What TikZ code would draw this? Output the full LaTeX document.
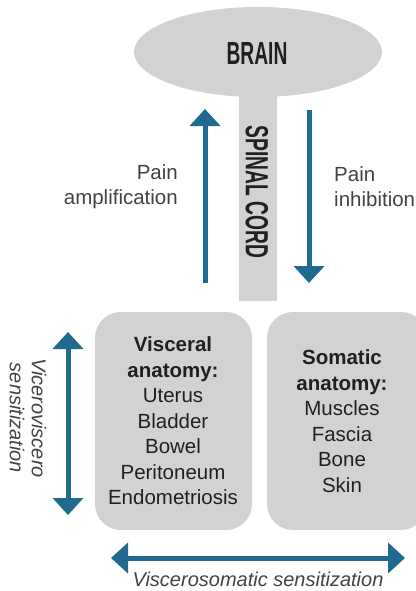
\documentclass[tikz,border=0pt]{standalone}
\usepackage{fontspec}
\setmainfont{Liberation Sans}
\newfontfamily\condfont[FakeStretch=0.6]{Liberation Sans Bold}
\usetikzlibrary{arrows.meta,shapes.geometric}
\definecolor{cordgray}{HTML}{D1D2D4}
\definecolor{arrowblue}{HTML}{1F6A8E}
\definecolor{txt}{HTML}{231F20}
\tikzset{
  x=1pt, y=-1pt,
  grayfill/.style={fill=cordgray, draw=none},
  bluearrow/.style={draw=arrowblue, line width=5pt, -{Triangle[width=30pt,length=17pt]}},
  bluedouble/.style={draw=arrowblue, line width=5pt, {Triangle[width=30pt,length=17pt]}-{Triangle[width=30pt,length=17pt]}},
  boxtext/.style={text=txt, font=\fontsize{20.5}{25.5}\selectfont, align=center, inner sep=0pt},
  sidetext/.style={text=txt!85, font=\fontsize{20.5}{25}\selectfont, inner sep=0pt},
  condtext/.style={text=txt, font=\condfont\fontsize{32}{32}\selectfont, inner sep=0pt},
}
\begin{document}
\begin{tikzpicture}
\useasboundingbox (0,0) rectangle (415,591);
% spinal cord and brain
\fill[cordgray] (239,60) rectangle (277,301);
\node[grayfill, ellipse, minimum width=248pt, minimum height=90pt, inner sep=0pt] (brain) at (258,52) {};
\node[condtext] (brainlabel) at (257,53) {BRAIN};
\node[condtext, rotate=-90] (cord) at (257,192) {SPINAL CORD};
% boxes
\node[grayfill, rounded corners=26pt, minimum width=157pt, minimum height=218pt, inner sep=0pt] (visc) at (173.5,421) {};
\node[grayfill, rounded corners=26pt, minimum width=160pt, minimum height=218pt, inner sep=0pt] (soma) at (347,421) {};
\node[boxtext] (visctext) at (173,421) {\textbf{Visceral}\\\textbf{anatomy:}\\Uterus\\Bladder\\Bowel\\Peritoneum\\Endometriosis};
\node[boxtext] (somatext) at (342,421) {\textbf{Somatic}\\\textbf{anatomy:}\\Muscles\\Fascia\\Bone\\Skin};
% vertical arrows
\coordinate (upstart) at (205,283);
\coordinate (upend) at (205,109);
\coordinate (downstart) at (309,110);
\coordinate (downend) at (309,283);
\draw[bluearrow] (upstart) -- (upend);
\draw[bluearrow] (downstart) -- (downend);
\node[sidetext, align=right, anchor=east] (amp) at (178,187) {Pain\\amplification};
\node[sidetext, align=left, anchor=west] (inh) at (334,187) {Pain\\inhibition};
% viceroviscero
\coordinate (vvtop) at (68,332);
\coordinate (vvbot) at (68,515);
\draw[bluedouble] (vvtop) -- (vvbot);
\node[sidetext, rotate=-90, align=center, font=\itshape\fontsize{20}{22}\selectfont] (vvtext) at (28,418) {Viceroviscero\\sensitization};
% viscerosomatic
\coordinate (vsleft) at (111,558);
\coordinate (vsright) at (405,558);
\draw[bluedouble] (vsleft) -- (vsright);
\node[sidetext, font=\itshape\fontsize{20}{22}\selectfont] (vstext) at (258,579) {Viscerosomatic sensitization};
\end{tikzpicture}
\end{document}
